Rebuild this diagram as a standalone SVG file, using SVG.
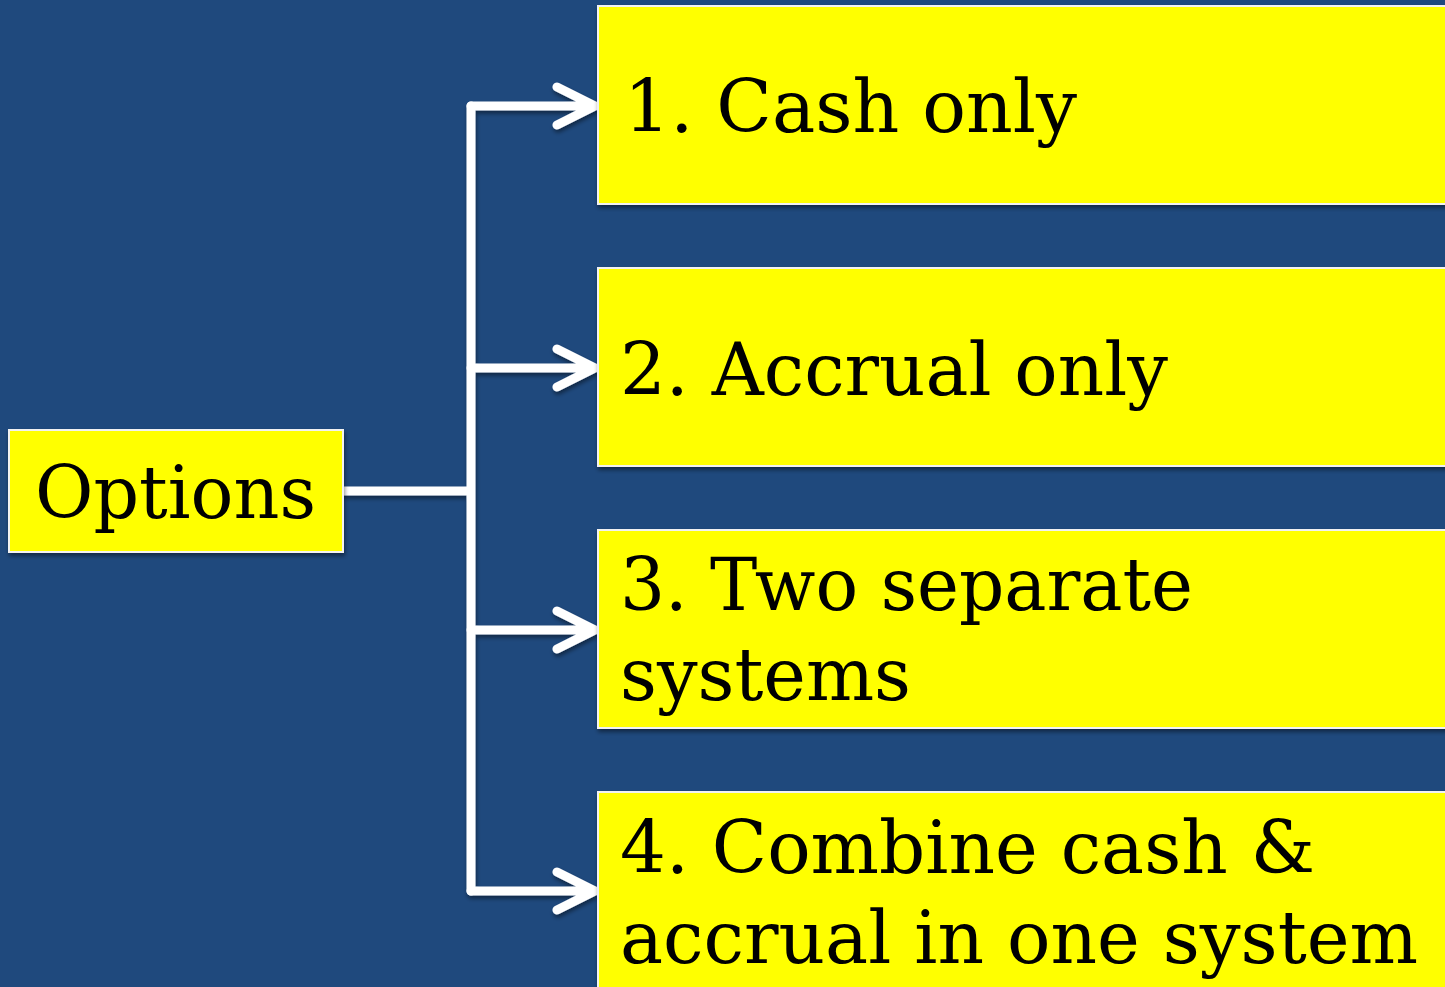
<svg xmlns="http://www.w3.org/2000/svg" width="1445" height="987" viewBox="0 0 1445 987">
<style>
.box{fill:#FFFF00;stroke:#F2F2F2;stroke-width:2;filter:url(#sh)}
.t{font-family:"DejaVu Serif","Liberation Serif",serif;font-size:72px;fill:#000}
.c{fill:none;stroke:#FFFFFF;stroke-width:9;stroke-linecap:round;stroke-linejoin:round}
</style>
<defs>
<filter id="sh" x="-5%" y="-5%" width="110%" height="115%">
<feDropShadow dx="1" dy="3" stdDeviation="2" flood-color="#000" flood-opacity="0.45"/>
</filter>
</defs>
<rect x="0" y="0" width="1445" height="987" fill="#1F497D"/>
<g id="connectors" filter="url(#sh)">
<path class="c" d="M344 491 H471 M471 106 V891"/>
<path class="c" d="M471 106 H595 M557 87 L595 106 L557 125"/>
<path class="c" d="M471 368 H595 M557 349 L595 368 L557 387"/>
<path class="c" d="M471 630 H595 M557 611 L595 630 L557 649"/>
<path class="c" d="M471 891 H595 M557 872 L595 891 L557 910"/>
</g>
<g id="options">
<rect class="box" x="9" y="430" width="334" height="122"/>
<text class="t" x="35" y="518" textLength="281" lengthAdjust="spacingAndGlyphs">Options</text>
</g>
<g id="opt1">
<rect class="box" x="598" y="6" width="860" height="198"/>
<text class="t" x="624" y="132" textLength="453" lengthAdjust="spacingAndGlyphs">1. Cash only</text>
</g>
<g id="opt2">
<rect class="box" x="598" y="268" width="860" height="198"/>
<text class="t" x="620" y="395" textLength="548" lengthAdjust="spacingAndGlyphs">2. Accrual only</text>
</g>
<g id="opt3">
<rect class="box" x="598" y="530" width="860" height="198"/>
<text class="t" x="620" y="610" textLength="573" lengthAdjust="spacingAndGlyphs">3. Two separate</text>
<text class="t" x="620" y="700" textLength="291" lengthAdjust="spacingAndGlyphs">systems</text>
</g>
<g id="opt4">
<rect class="box" x="598" y="792" width="860" height="210"/>
<text class="t" x="620" y="873" textLength="695" lengthAdjust="spacingAndGlyphs">4. Combine cash &amp;</text>
<text class="t" x="620" y="963" textLength="798" lengthAdjust="spacingAndGlyphs">accrual in one system</text>
</g>
</svg>
